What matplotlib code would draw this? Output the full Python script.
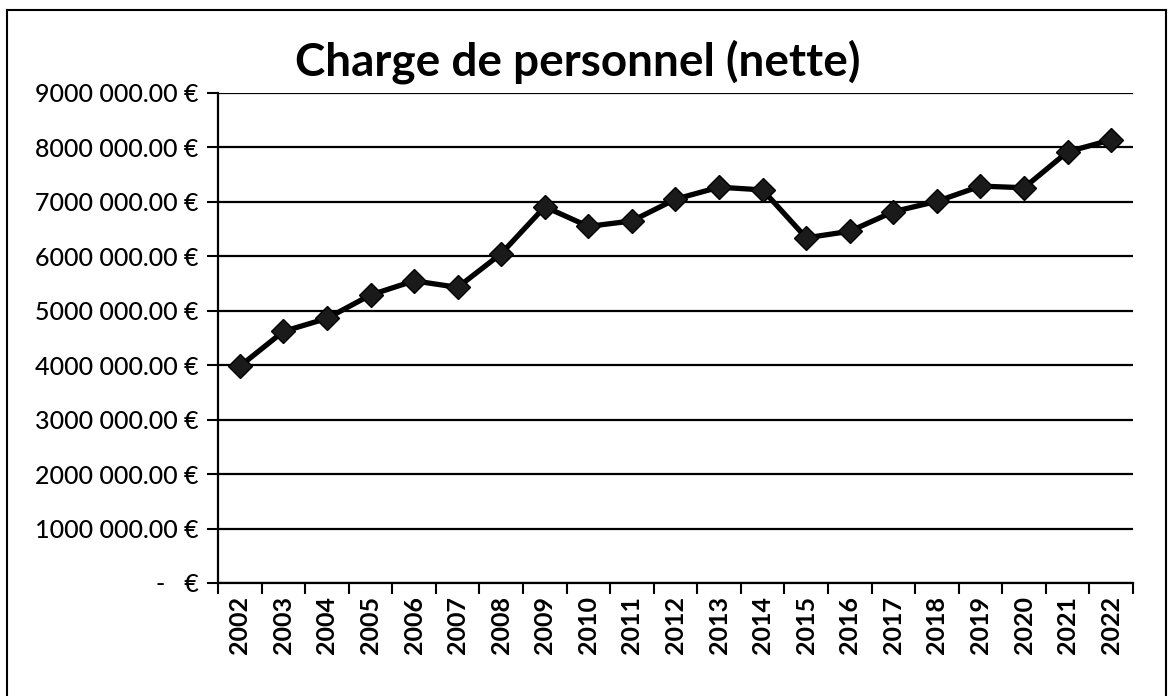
import matplotlib.pyplot as plt
from matplotlib.ticker import FuncFormatter, FixedLocator
from matplotlib.lines import Line2D

years = [str(y) for y in range(2002, 2023)]
charges = [3980000, 4620000, 4860000, 5290000, 5550000, 5430000, 6050000,
           6910000, 6550000, 6650000, 7050000, 7270000, 7220000, 6340000,
           6460000, 6820000, 7010000, 7290000, 7260000, 7920000, 8140000]

plt.rcParams['font.family'] = ['Lato', 'DejaVu Sans']

fig = plt.figure(figsize=(11.73, 6.96), dpi=100)
ax = fig.add_axes([218 / 1173, 1 - 583 / 696, (1133 - 218) / 1173, (583 - 93) / 696])

x = list(range(len(years)))
ax.plot(x, charges, color='black', lw=3.8, marker='D', markersize=12,
        markerfacecolor='#1a1a1a', markeredgecolor='black', zorder=3)

ax.set_xlim(-0.5, len(years) - 0.5)
ax.set_ylim(0, 9000000)
ax.set_yticks(range(0, 9000001, 1000000))


def euro(v, pos):
    v = int(round(v))
    if v == 0:
        return '-   €'
    return f"{v // 1000} {v % 1000:03d}.00 €"


ax.yaxis.set_major_formatter(FuncFormatter(euro))
ax.grid(axis='y', color='black', lw=1.6)
ax.set_axisbelow(True)

# years as labels, ticks sitting between categories
ax.set_xticks(x)
ax.set_xticklabels(years, rotation=90, fontsize=18, fontweight='bold')
ax.tick_params(axis='x', length=0, pad=9)
ax.xaxis.set_minor_locator(FixedLocator([i - 0.5 for i in range(len(years) + 1)]))
ax.tick_params(axis='x', which='minor', length=8, width=1.5, color='black')
ax.tick_params(axis='y', labelsize=18, length=8, width=1.5, pad=6)
for t in ax.get_yticklabels():
    t.set_fontweight('medium')

for s in ['top', 'right']:
    ax.spines[s].set_visible(False)
ax.spines['left'].set_linewidth(1.6)
ax.spines['bottom'].set_linewidth(1.6)

fig.text(578 / 1173, 1 - 62 / 696, 'Charge de personnel (nette)', ha='center',
         va='center', fontsize=33, fontweight='bold')

# outer frame of the scanned chart
frame = dict(color='black', lw=1.5, transform=fig.transFigure)
fig.add_artist(Line2D([7 / 1173, 1166 / 1173], [1 - 10 / 696] * 2, **frame))
fig.add_artist(Line2D([7 / 1173] * 2, [0, 1 - 10 / 696], **frame))
fig.add_artist(Line2D([1166 / 1173] * 2, [0, 1 - 10 / 696], **frame))

fig.savefig('out.png', dpi=100)
